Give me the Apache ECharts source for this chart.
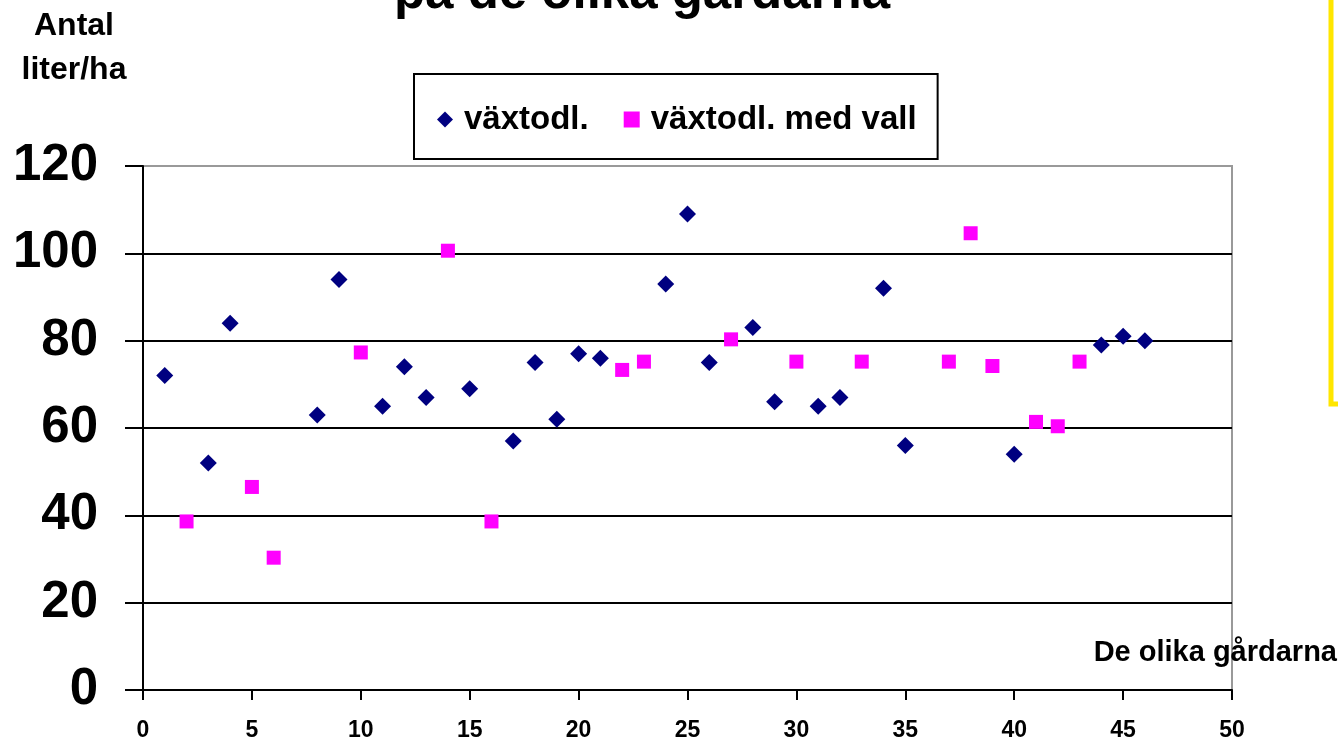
<!DOCTYPE html>
<html>
<head>
<meta charset="utf-8">
<script src="https://cdn.jsdelivr.net/npm/echarts@6/dist/echarts.min.js"></script>
<style>
  html, body { margin: 0; padding: 0; background: #fff; }
  #chart { width: 1338px; height: 742px; }
</style>
</head>
<body>
<div id="chart"></div>
<script>
// series names
var seriesNames = ['växtodl.', 'växtodl. med vall'];

// växtodl. (gård, liter/ha)
var vaxtGard = [1, 3, 4, 8, 9, 11, 12, 13, 15, 17, 18, 19, 20, 21, 24, 25, 26, 28, 29, 31, 32, 34, 35, 40, 44, 45, 46];
var vaxtVal = [72, 52, 84, 63, 94, 65, 74, 67, 69, 57, 75, 62, 77, 76, 93, 109, 75, 83, 66, 65, 67, 92, 56, 54, 79, 81, 80];

// växtodl. med vall
var vallGard = [2, 5, 6, 10, 14, 16, 22, 23, 27, 30, 33, 37, 38, 39, 41, 42, 43];
var vallVal = [38.6, 46.5, 30.3, 77.3, 100.6, 38.6, 73.3, 75.2, 80.3, 75.2, 75.2, 75.2, 104.6, 74.2, 61.4, 60.4, 75.2];

// axis ticks
var xTicks = { min: 0, max: 50, step: 5 };
var yTicks = { min: 0, max: 120, step: 20 };

var FONT = 'Arial, "Liberation Sans", sans-serif';

function pairs(xs, ys) {
    return xs.map(function(x, i) { return [x, ys[i]]; });
}

(function() {
    var myChart = echarts.init(document.getElementById('chart'));
    var option = {
        animation: false,
        backgroundColor: '#fff',
        grid: {
            left: 143,
            right: 106,
            top: 166,
            bottom: 52,
            show: true,
            borderColor: '#999',
            borderWidth: 2
        },
        legend: {
            left: 414,
            top: 74,
            padding: [29, 21, 23, 23],
            itemGap: 35,
            itemWidth: 16,
            itemHeight: 16,
            borderColor: '#000',
            borderWidth: 2,
            data: seriesNames,
            textStyle: {
                fontFamily: FONT,
                fontSize: 33,
                fontWeight: 'bold',
                color: '#000',
                padding: [0, 0, 0, 6]
            }
        },
        xAxis: {
            type: 'value',
            min: xTicks.min,
            max: xTicks.max,
            interval: xTicks.step,
            axisLine: { show: true, lineStyle: { color: '#000', width: 2 } },
            axisTick: { show: true, length: 10, lineStyle: { color: '#000', width: 2 } },
            splitLine: { show: false },
            axisLabel: {
                margin: 29,
                fontFamily: FONT,
                fontSize: 23,
                fontWeight: 'bold',
                color: '#000'
            }
        },
        yAxis: {
            type: 'value',
            min: yTicks.min,
            max: yTicks.max,
            interval: yTicks.step,
            axisLine: { show: true, lineStyle: { color: '#000', width: 2 } },
            axisTick: { show: true, length: 18, lineStyle: { color: '#000', width: 2 } },
            splitLine: { show: true, showMaxLine: false, lineStyle: { color: '#000', width: 2 } },
            axisLabel: {
                margin: 45,
                fontFamily: FONT,
                fontSize: 51,
                fontWeight: 'bold',
                color: '#000'
            }
        },
        graphic: [
            {
                type: 'text', x: 642, y: -6, z: 10,
                style: {
                    text: 'på de olika gårdarna', textAlign: 'center', textVerticalAlign: 'middle',
                    font: 'bold 51px ' + FONT, fill: '#000'
                }
            },
            {
                type: 'text', x: 74, y: 26, z: 10,
                style: {
                    text: 'Antal', textAlign: 'center', textVerticalAlign: 'middle',
                    font: 'bold 32px ' + FONT, fill: '#000'
                }
            },
            {
                type: 'text', x: 74, y: 70, z: 10,
                style: {
                    text: 'liter/ha', textAlign: 'center', textVerticalAlign: 'middle',
                    font: 'bold 32px ' + FONT, fill: '#000'
                }
            },
            {
                type: 'text', x: 1337, y: 653, z: 10,
                style: {
                    text: 'De olika gårdarna', textAlign: 'right', textVerticalAlign: 'middle',
                    font: 'bold 29px ' + FONT, fill: '#000'
                }
            },
            {
                // yellow frame edge at right
                type: 'polyline', z: 10,
                shape: { points: [[1331, -5], [1331, 404], [1342, 404]] },
                style: { stroke: '#FFE600', lineWidth: 5, fill: null }
            }
        ],
        series: [
            {
                name: seriesNames[0],
                type: 'scatter',
                symbol: 'diamond',
                symbolSize: 17,
                itemStyle: { color: '#000080', opacity: 1 },
                data: pairs(vaxtGard, vaxtVal)
            },
            {
                name: seriesNames[1],
                type: 'scatter',
                symbol: 'rect',
                symbolSize: 14,
                itemStyle: { color: '#FF00FF', opacity: 1 },
                data: pairs(vallGard, vallVal)
            }
        ]
    };
    myChart.setOption(option);
})();
</script>
</body>
</html>
